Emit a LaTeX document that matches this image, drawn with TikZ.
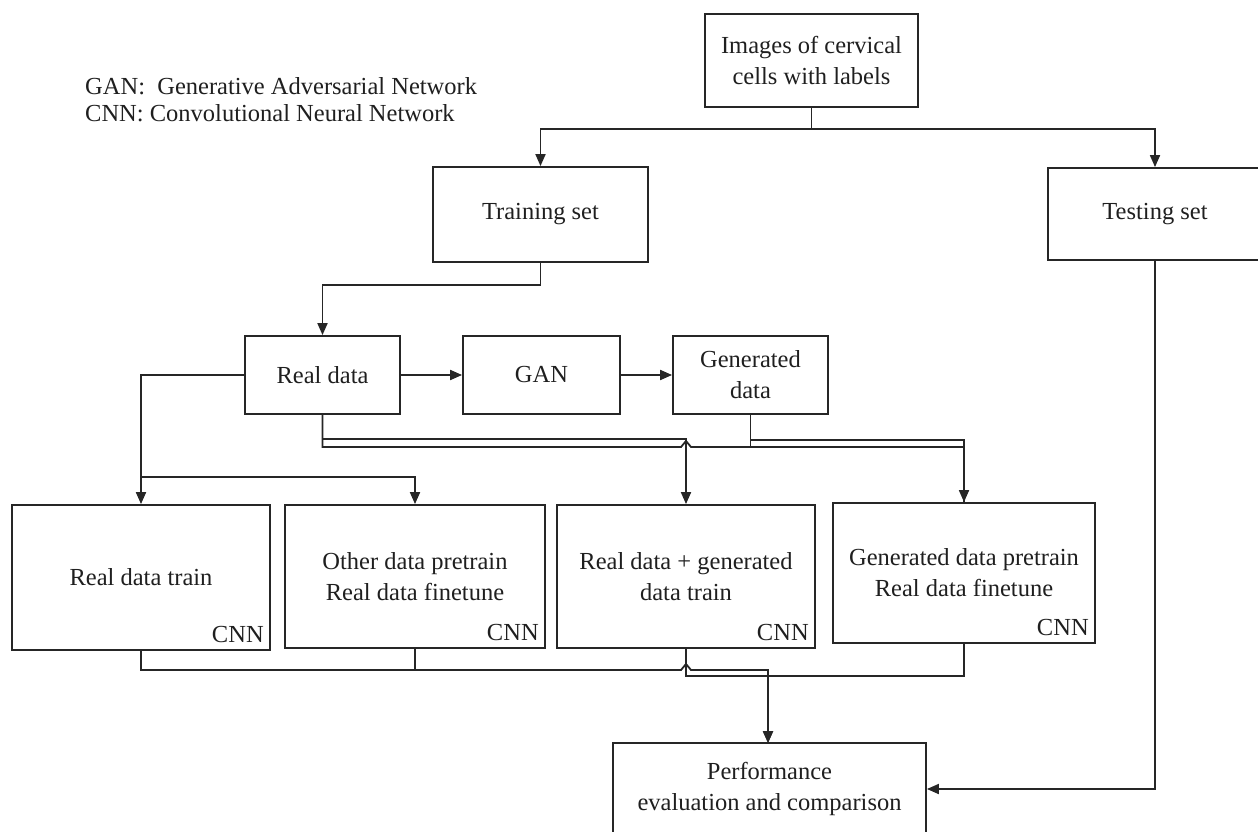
\documentclass[tikz,border=0pt]{standalone}
\usepackage{fontspec}
\setmainfont{Liberation Serif}
\usetikzlibrary{arrows.meta}
\begin{document}
\begin{tikzpicture}[x=1pt,y=-1pt,
  box/.style={draw=black!85, line width=1.8pt, rectangle, inner sep=0pt, align=center,
    text=black!88, font=\fontsize{24.5}{31}\selectfont},
  conn/.style={draw=black!85, line width=1.8pt},
  arr/.style={conn, -{Triangle[length=12pt,width=10pt]}},
  lab/.style={text=black!88, font=\fontsize{24.5}{31}\selectfont, inner sep=0pt}]
\useasboundingbox (0,0) rectangle (1258,832);
\clip (0,0) rectangle (1258,832);

% legend
\node[lab, anchor=base west] (legA) at (85,95) {GAN:\ \ Generative Adversarial Network};
\node[lab, anchor=base west] (legB) at (85,122) {CNN: Convolutional Neural Network};

% boxes
\node[box, minimum width=213pt, minimum height=93pt] (img) at (811.5,60.5) {Images of cervical\\cells with labels};
\node[box, minimum width=215pt, minimum height=95pt] (train) at (540.5,214.5) {Training set};
\node[box, minimum width=214pt, minimum height=92pt] (test) at (1155,214) {Testing set};
\node[box, minimum width=155pt, minimum height=78pt] (real) at (322.5,375) {Real data};
\node[box, minimum width=157pt, minimum height=78pt] (gan) at (541.5,375) {GAN};
\node[box, minimum width=155pt, minimum height=78pt] (gen) at (750.5,375) {Generated\\data};
\node[box, minimum width=258pt, minimum height=145pt] (b1) at (141,577.5) {Real data train};
\node[box, minimum width=260pt, minimum height=143pt] (b2) at (415,576.5) {Other data pretrain\\Real data finetune};
\node[box, minimum width=258pt, minimum height=143pt] (b3) at (686,576.5) {Real data + generated\\data train};
\node[box, minimum width=262pt, minimum height=140pt] (b4) at (964,573) {Generated data pretrain\\Real data finetune};
\node[box, minimum width=313pt, minimum height=92pt] (perf) at (769.5,789) {Performance\\evaluation and comparison};

% CNN tags
\node[lab, anchor=base east] (c1) at ([shift={(-7,-8)}]b1.south east) {CNN};
\node[lab, anchor=base east] (c2) at ([shift={(-7,-8)}]b2.south east) {CNN};
\node[lab, anchor=base east] (c3) at ([shift={(-7,-8)}]b3.south east) {CNN};
\node[lab, anchor=base east] (c4) at ([shift={(-7,-8)}]b4.south east) {CNN};

% top split
\coordinate (split) at (811.5,129);
\draw[conn] (img.south) -- (split);
\draw[arr] (split) -| (train.north);
\draw[arr] (split) -| (test.north);

% training -> real
\draw[arr] (train.south) |- (322.5,285) -- (real.north);

% real -> gan -> gen
\draw[arr] (real.east) -- (gan.west);
\draw[arr] (gan.east) -- (gen.west);

% real data left branches
\draw[arr] (real.west) -| (b1.north);
\draw[arr] (141,477) -| (b2.north);

% real / generated -> b3, b4
\draw[arr] (real.south) |- (686,439) -- (b3.north);
\draw[arr] (real.south) |- (681,447) -- (686,441) -- (691,447) -| (b4.north);
\coordinate (g3) at (691,447);
\draw[conn] (gen.south) |- (g3);
\draw[conn] (gen.south) |- (964,440) -- (b4.north);

% bottom merges -> performance
\draw[arr] (b1.south) |- (681,670) -- (686,664) -- (691,670) -| (768,743);
\draw[conn] (b2.south) -- (415,670);
\draw[arr] (b3.south) |- (768,676) -- (768,743);
\coordinate (g4) at (691,676);
\draw[conn] (b4.south) |- (g4);

% testing -> performance
\draw[arr] (test.south) |- (perf.east);
\end{tikzpicture}
\end{document}
